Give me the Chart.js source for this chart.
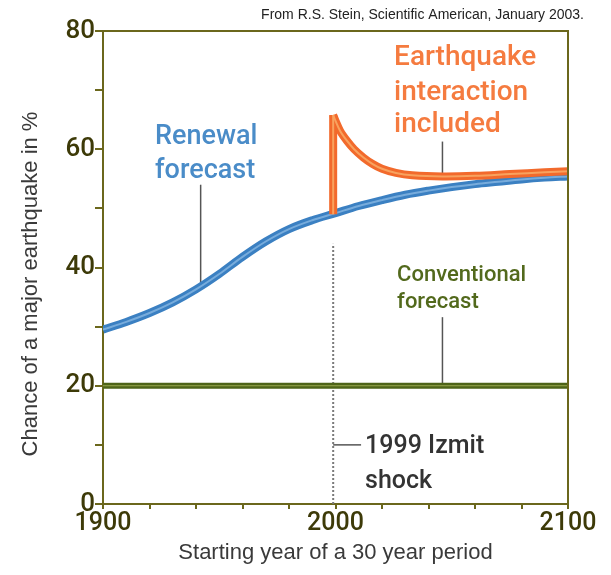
<!DOCTYPE html>
<html>
<head>
<meta charset="utf-8">
<title>Chance of a major earthquake</title>
<script src="https://cdn.jsdelivr.net/npm/chart.js@4.4.1/dist/chart.umd.min.js"></script>
<style>
  html, body { margin: 0; padding: 0; background: #fff; }
  #chart { display: block; }
</style>
</head>
<body>
<canvas id="chart" width="611" height="575"></canvas>
<script>
// values
const years = [1900, 1910, 1920, 1930, 1940, 1950, 1960, 1970, 1980, 1990, 2000,
               2010, 2020, 2030, 2040, 2050, 2060, 2070, 2080, 2090, 2100];
const renewal = [29.5, 30.8, 32.3, 34.1, 36.3, 38.9, 41.8, 44.4, 46.5, 48.0, 49.2,
                 50.4, 51.4, 52.3, 53.0, 53.6, 54.1, 54.5, 54.9, 55.2, 55.4];

const interactionYears = [1999, 2000, 2002, 2005, 2008, 2012, 2016, 2020, 2026, 2033,
                          2046, 2060, 2075, 2090, 2100];
const interaction = [65.8, 64.8, 63.1, 61.4, 60.0, 58.6, 57.5, 56.7, 56.0, 55.6,
                     55.4, 55.5, 55.8, 56.1, 56.3];

const conventionalYears = [1900, 2100];
const conventional = [20, 20];

const izmitYear = 1999;
const shockJump = [49.0, 65.8];      // renewal level -> interaction peak
const izmitMarker = [0, 44];         // dashed line extent

const yLabels = [0, 20, 40, 60, 80];
const xLabels = [1900, 2000, 2100];

const pts = (xs, ys) => xs.map((x, i) => ({ x: x, y: ys[i] }));

const AXIS = '#6b671c';
const LEADER = '#555';

const leaders = [
  pts([1942, 1942], [36.8, 54]),
  pts([2046, 2046], [55.4, 61.3]),
  pts([2046, 2046], [20, 31.6]),
  pts([izmitYear, 2011], [10, 10])
];

function line(data, color, width, order, extra) {
  return Object.assign({
    data: data,
    borderColor: color,
    borderWidth: width,
    pointRadius: 0,
    fill: false,
    order: order
  }, extra || {});
}

const smooth = { tension: 0.35 };

const datasets = [
  ...leaders.map(d => line(d, LEADER, 1.5, 20)),
  line(pts([izmitYear, izmitYear], izmitMarker), '#7a7a7a', 2, 19, { borderDash: [2, 2] }),
  line(pts(conventionalYears, conventional), '#4e6418', 6, 10),
  line(pts(conventionalYears, conventional), '#9aa84e', 1.2, 9),
  line(pts(years, renewal), '#3b80c2', 8, 8, smooth),
  line(pts(years, renewal), '#78acdc', 2, 7, smooth),
  line(pts([izmitYear, izmitYear], shockJump), '#f26a2c', 8, 6),
  line(pts(interactionYears, interaction), '#f26a2c', 8, 5, smooth),
  line(pts([izmitYear, izmitYear], shockJump), '#f8a25e', 2, 4),
  line(pts(interactionYears, interaction), '#f8a25e', 2, 3, smooth)
];

// text placed in data coordinates
const notes = [
  { text: 'Renewal', x: 1922.4, y: 62.1, color: '#4a8cc8', size: 27 },
  { text: 'forecast', x: 1922.4, y: 56.2, color: '#4a8cc8', size: 27 },
  { text: 'Earthquake', x: 2025.2, y: 75.5, color: '#f57b3f', size: 28 },
  { text: 'interaction', x: 2025.2, y: 69.5, color: '#f57b3f', size: 28 },
  { text: 'included', x: 2025.2, y: 64.1, color: '#f57b3f', size: 28 },
  { text: 'Conventional', x: 2026.5, y: 38.6, color: '#52691c', size: 22 },
  { text: 'forecast', x: 2026.5, y: 34.0, color: '#52691c', size: 22 },
  { text: '1999 Izmit', x: 2012.7, y: 9.6, color: '#333', size: 25 },
  { text: 'shock', x: 2012.7, y: 3.8, color: '#333', size: 25 }
];

const decor = {
  id: 'decor',
  afterDatasetsDraw(chart) {
    const ctx = chart.ctx;
    const a = chart.chartArea;
    const xs = chart.scales.x, ys = chart.scales.y;
    ctx.save();
    // top and right frame
    ctx.strokeStyle = AXIS;
    ctx.lineWidth = 2;
    ctx.beginPath();
    ctx.moveTo(a.left, a.top);
    ctx.lineTo(a.right, a.top);
    ctx.lineTo(a.right, a.bottom);
    ctx.stroke();

    ctx.textBaseline = 'middle';
    ctx.textAlign = 'left';
    notes.forEach(n => {
      ctx.font = '500 ' + n.size + 'px Roboto, "DejaVu Sans", sans-serif';
      ctx.fillStyle = n.color;
      ctx.fillText(n.text, xs.getPixelForValue(n.x), ys.getPixelForValue(n.y));
    });

    // axis titles and credit
    ctx.fillStyle = '#3a3a3a';
    ctx.font = '22px "Liberation Sans", Arial, sans-serif';
    ctx.textAlign = 'center';
    ctx.fillText('Starting year of a 30 year period', (a.left + a.right) / 2, 553);
    ctx.save();
    ctx.translate(31, 284);
    ctx.rotate(-Math.PI / 2);
    ctx.fillText('Chance of a major earthquake in %', 0, 0);
    ctx.restore();

    ctx.fillStyle = '#222';
    ctx.font = '14px "Liberation Sans", Arial, sans-serif';
    ctx.textAlign = 'right';
    ctx.fillText('From R.S. Stein, Scientific American, January 2003.', 584, 15);
    ctx.restore();
  }
};

new Chart(document.getElementById('chart'), {
  type: 'line',
  data: { datasets: datasets },
  options: {
    responsive: false,
    animation: false,
    layout: { padding: { top: 31, right: 43, left: 0, bottom: 0 } },
    plugins: { legend: { display: false }, tooltip: { enabled: false } },
    scales: {
      x: {
        type: 'linear',
        min: 1900,
        max: 2100,
        afterFit: s => { s.height = 71; },
        border: { display: true, color: AXIS, width: 2 },
        grid: { drawOnChartArea: false, drawTicks: true, tickLength: 5, color: AXIS, lineWidth: 2 },
        ticks: {
          stepSize: 20,
          autoSkip: false,
          maxRotation: 0,
          padding: 0,
          color: '#3d3a08',
          font: { family: 'Roboto', size: 25, weight: '500' },
          callback: v => xLabels.includes(v) ? String(v) : ''
        }
      },
      y: {
        min: 0,
        max: 80,
        afterFit: s => { s.width = 103; },
        border: { display: true, color: AXIS, width: 2 },
        grid: { drawOnChartArea: false, drawTicks: true, tickLength: 8, color: AXIS, lineWidth: 2 },
        ticks: {
          stepSize: 10,
          autoSkip: false,
          padding: 0,
          color: '#3d3a08',
          font: { family: 'Roboto', size: 26, weight: '500' },
          callback: v => yLabels.includes(v) ? String(v) : ''
        }
      }
    }
  },
  plugins: [decor]
});
</script>
</body>
</html>
